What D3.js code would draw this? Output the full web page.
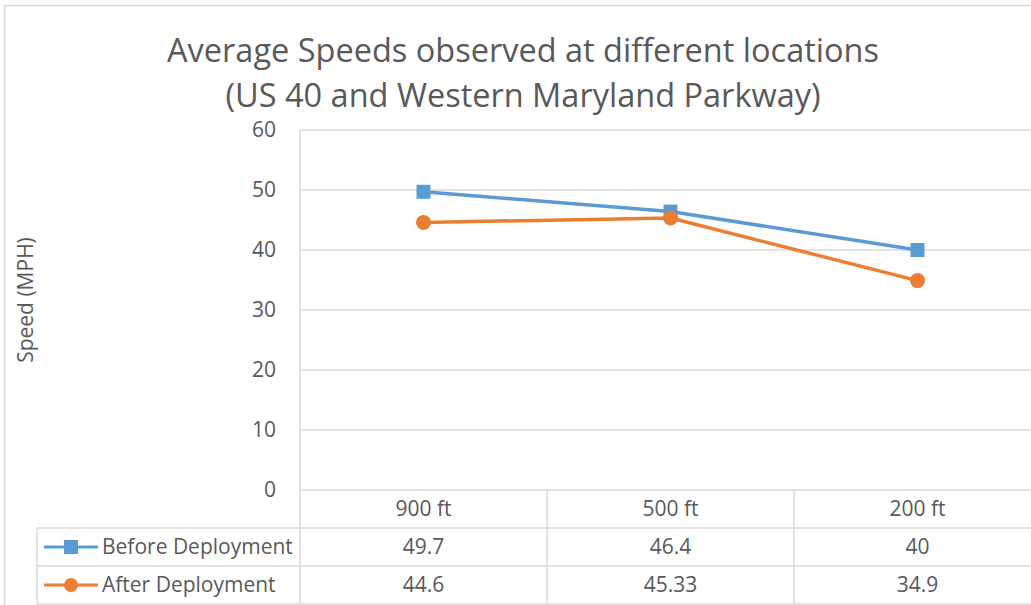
<html>
<head>
  <meta charset=utf-8>
  <script src="https://cdnjs.cloudflare.com/ajax/libs/d3/7.8.5/d3.min.js"></script>
  <style>
    body { margin:0; background:#fff; overflow:hidden; }
    text { font-family: "Open Sans", sans-serif; fill:#595959; }
  </style>
</head>
<body>
<svg id="chart" width="1031" height="605"></svg>
<script>
  // data
  var categories = ["900 ft", "500 ft", "200 ft"];
  var beforeValues = [49.7, 46.4, 40];
  var afterValues = [44.6, 45.33, 34.9];
  var beforeLabels = ["49.7", "46.4", "40"];
  var afterLabels = ["44.6", "45.33", "34.9"];
  var yTicks = [0, 10, 20, 30, 40, 50, 60];
  var seriesNames = ["Before Deployment", "After Deployment"];

  var W = 1031, H = 605;
  var grid = "#d9d9d9";
  var blue = "#5b9bd5", orange = "#ed7d31";
  var fs = "21px";
  var svg = d3.select("#chart");

  var plotLeft = 300, plotRight = 1041, plotTop = 130, plotBottom = 490;
  var rowH = 38;

  var x = d3.scaleBand().domain(categories).range([plotLeft, plotRight]);
  var y = d3.scaleLinear().domain([0, 60]).range([plotBottom, plotTop]);

  // outer chart border
  svg.append("rect")
    .attr("x", 4.5).attr("y", 5.5).attr("width", W + 20).attr("height", H + 20)
    .attr("fill", "none").attr("stroke", grid).attr("stroke-width", 1.5);

  // title
  svg.append("text").attr("x", 523).attr("y", 62).attr("text-anchor", "middle")
    .style("font-size", "32.5px").text("Average Speeds observed at different locations");
  svg.append("text").attr("x", 523).attr("y", 107).attr("text-anchor", "middle")
    .style("font-size", "32.5px").text("(US 40 and Western Maryland Parkway)");

  // gridlines
  svg.selectAll(".grid").data(yTicks).enter().append("line")
    .attr("x1", plotLeft).attr("x2", plotRight)
    .attr("y1", function(d) { return y(d); }).attr("y2", function(d) { return y(d); })
    .attr("stroke", grid).attr("stroke-width", 1.5);

  // y tick labels
  svg.selectAll(".ylab").data(yTicks).enter().append("text")
    .attr("x", 276).attr("y", function(d) { return y(d) + 7; })
    .attr("text-anchor", "end").style("font-size", fs)
    .text(function(d) { return d; });

  // y axis title
  svg.append("text")
    .attr("transform", "translate(33,300) rotate(-90)")
    .attr("text-anchor", "middle").style("font-size", fs).text("Speed (MPH)");

  // data table
  var tableTop = plotBottom, tableBottom = plotBottom + rowH * 3;
  var tbl = svg.append("g");
  // vertical line at plot left, from top of plot to bottom of table
  tbl.append("line").attr("x1", plotLeft).attr("x2", plotLeft)
    .attr("y1", plotTop).attr("y2", tableBottom).attr("stroke", grid).attr("stroke-width", 1.5);
  // column separators
  tbl.selectAll(".col").data(categories.slice(1)).enter().append("line")
    .attr("x1", function(d) { return x(d); }).attr("x2", function(d) { return x(d); })
    .attr("y1", tableTop).attr("y2", tableBottom).attr("stroke", grid).attr("stroke-width", 1.5);
  // legend column left edge
  tbl.append("line").attr("x1", 37).attr("x2", 37)
    .attr("y1", tableTop + rowH).attr("y2", tableBottom).attr("stroke", grid).attr("stroke-width", 1.5);
  // row lines
  [1, 2, 3].forEach(function(r) {
    tbl.append("line").attr("x1", 37).attr("x2", plotRight)
      .attr("y1", tableTop + rowH * r).attr("y2", tableTop + rowH * r)
      .attr("stroke", grid).attr("stroke-width", 1.5);
  });

  // category labels
  tbl.selectAll(".cat").data(categories).enter().append("text")
    .attr("x", function(d) { return x(d) + x.bandwidth() / 2; })
    .attr("y", tableTop + rowH / 2 + 7)
    .attr("text-anchor", "middle").style("font-size", fs)
    .text(function(d) { return d; });

  var rows = [beforeLabels, afterLabels];
  rows.forEach(function(labels, r) {
    tbl.selectAll(".v" + r).data(labels).enter().append("text")
      .attr("x", function(d, i) { return x(categories[i]) + x.bandwidth() / 2; })
      .attr("y", tableTop + rowH * (r + 1) + rowH / 2 + 7)
      .attr("text-anchor", "middle").style("font-size", fs)
      .text(function(d) { return d; });
  });

  // legend keys in table
  seriesNames.forEach(function(name, r) {
    var cy = tableTop + rowH * (r + 1) + rowH / 2;
    var col = r === 0 ? blue : orange;
    tbl.append("line").attr("x1", 44).attr("x2", 98).attr("y1", cy).attr("y2", cy)
      .attr("stroke", col).attr("stroke-width", 3);
    if (r === 0) {
      tbl.append("rect").attr("x", 64).attr("y", cy - 7).attr("width", 14).attr("height", 14).attr("fill", col);
    } else {
      tbl.append("circle").attr("cx", 71).attr("cy", cy).attr("r", 7).attr("fill", col);
    }
    tbl.append("text").attr("x", 102).attr("y", cy + 7).style("font-size", fs).text(name);
  });

  // series lines
  var line = d3.line()
    .x(function(d, i) { return x(categories[i]) + x.bandwidth() / 2; })
    .y(function(d) { return y(d); });

  svg.append("path").datum(beforeValues).attr("d", line)
    .attr("fill", "none").attr("stroke", blue).attr("stroke-width", 3.5).attr("stroke-linejoin", "round");
  svg.append("path").datum(afterValues).attr("d", line)
    .attr("fill", "none").attr("stroke", orange).attr("stroke-width", 3.5).attr("stroke-linejoin", "round");

  svg.selectAll(".sq").data(beforeValues).enter().append("rect")
    .attr("x", function(d, i) { return x(categories[i]) + x.bandwidth() / 2 - 7; })
    .attr("y", function(d) { return y(d) - 7; })
    .attr("width", 14).attr("height", 14).attr("fill", blue);

  svg.selectAll(".dot").data(afterValues).enter().append("circle")
    .attr("cx", function(d, i) { return x(categories[i]) + x.bandwidth() / 2; })
    .attr("cy", function(d) { return y(d); })
    .attr("r", 7.5).attr("fill", orange);
</script>
</body>
</html>
